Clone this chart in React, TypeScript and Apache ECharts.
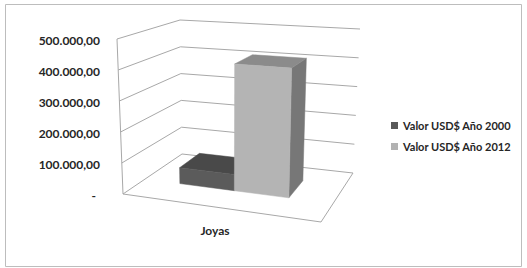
import React, { useEffect, useRef } from "react";
import * as echarts from "echarts";

const categories = ["Joyas"];
const seriesNames = ["Valor USD$ Año 2000", "Valor USD$ Año 2012"];
const values2000 = [53000];
const values2012 = [414000];
const yTicks = [0, 100000, 200000, 300000, 400000, 500000];
const Y_MIN = 0;
const Y_MAX = 500000;
const Y_INTERVAL = 100000;

// 3D box corners, in px offsets from the grid's bottom-left, for a 204 x 155 grid
const REF_W = 204;
const REF_H = 155;
const BOX = {
  flb: [6, 0],
  flt: [0, -155],
  frb: [204, 28],
  frt: [209, -141],
  blb: [65, -40],
  blt: [63, -174],
  brb: [236, -21],
  brt: [243, -165],
};

const bil = (a: number[], b: number[], c: number[], d: number[], u: number, v: number) => [
  (1 - u) * (1 - v) * a[0] + u * (1 - v) * b[0] + (1 - u) * v * c[0] + u * v * d[0],
  (1 - u) * (1 - v) * a[1] + u * (1 - v) * b[1] + (1 - u) * v * c[1] + u * v * d[1],
];

function makeProjector(cs: any) {
  const ox = cs.x;
  const oy = cs.y + cs.height;
  const sx = cs.width / REF_W;
  const sy = cs.height / REF_H;
  return (u: number, d: number, f: number) => {
    const b = bil(BOX.flb, BOX.frb, BOX.blb, BOX.brb, u, d);
    const t = bil(BOX.flt, BOX.frt, BOX.blt, BOX.brt, u, d);
    return [ox + (b[0] + (t[0] - b[0]) * f) * sx, oy + (b[1] + (t[1] - b[1]) * f) * sy];
  };
}

const fmt = (v: number) => {
  if (v === 0) return "{z|-}";
  const s = Math.round(v).toString().replace(/\B(?=(\d{3})+(?!\d))/g, ".");
  return s + ",00";
};

const FONT = "Lato";
const TEXT = "#262626";
const GRID_LINE = "#a8a8a8";

const FACE_COLORS = [
  { front: "#5b5b5b", top: "#494949", side: "#3e3e3e", legend: "#595959" },
  { front: "#b4b4b4", top: "#8b8b8b", side: "#777777", legend: "#b2b2b2" },
];
const DEPTH = [0.375, 0.74];
const BAR_W = 0.29;
const BAR_START = -0.315;

function barRender(idx: number) {
  return (params: any, api: any) => {
    const cs = params.coordSys;
    const P = makeProjector(cs);
    const base = api.coord([api.value(0), 0]);
    const top = api.coord([api.value(0), api.value(1)]);
    const band = api.size([1, 0])[0] / cs.width;
    const uc = (base[0] - cs.x) / cs.width;
    const f = (base[1] - top[1]) / cs.height;
    const u0 = uc + (BAR_START + idx * BAR_W) * band;
    const u1 = u0 + BAR_W * band;
    const [d0, d1] = DEPTH;
    const c = FACE_COLORS[idx];
    const poly = (pts: number[][], fill: string) => ({
      type: "polygon",
      shape: { points: pts },
      style: { fill, stroke: fill, lineWidth: 0.5 },
    });
    return {
      type: "group",
      children: [
        poly([P(u1, d0, 0), P(u1, d1, 0), P(u1, d1, f), P(u1, d0, f)], c.side),
        poly([P(u0, d0, f), P(u1, d0, f), P(u1, d1, f), P(u0, d1, f)], c.top),
        poly([P(u0, d0, 0), P(u1, d0, 0), P(u1, d0, f), P(u0, d0, f)], c.front),
      ],
    };
  };
}

function wallRender(params: any, api: any) {
  const cs = params.coordSys;
  const P = makeProjector(cs);
  const o = api.coord([0, 0]);
  const children: any[] = [];
  const line = (a: number[], b: number[]) => ({
    type: "line",
    shape: { x1: a[0], y1: a[1], x2: b[0], y2: b[1] },
    style: { stroke: GRID_LINE, lineWidth: 1 },
  });
  yTicks.forEach((t) => {
    const f = (o[1] - api.coord([0, t])[1]) / cs.height;
    children.push(line(P(0, 0, f), P(0, 1, f)));
    children.push(line(P(0, 1, f), P(1, 1, f)));
  });
  const fMax = (o[1] - api.coord([0, Y_MAX])[1]) / cs.height;
  children.push(line(P(0, 0, 0), P(0, 0, fMax)));
  children.push(line(P(0, 0, 0), P(1, 0, 0)));
  children.push(line(P(1, 0, 0), P(1, 1, 0)));
  return { type: "group", children };
}

export default function App() {
  const ref = useRef<HTMLDivElement>(null);
  useEffect(() => {
    document.body.style.margin = "0";
    const chart = echarts.init(ref.current!, null, { renderer: "svg" });
    chart.setOption({
      animation: false,
      backgroundColor: "#ffffff",
      textStyle: { fontFamily: FONT },
      graphic: [
        {
          type: "rect",
          shape: { x: 5.5, y: 4.5, width: 516, height: 262 },
          style: { fill: "none", stroke: "#bdbdbd", lineWidth: 1 },
          silent: true,
        },
      ],
      grid: { left: 117, top: 39, width: 204, height: 155 },
      legend: {
        orient: "vertical",
        left: 386,
        top: 115,
        itemWidth: 7,
        itemHeight: 7,
        itemGap: 10,
        icon: "rect",
        data: seriesNames,
        textStyle: { fontFamily: FONT, fontSize: 11, fontWeight: "bold", color: TEXT },
      },
      xAxis: {
        type: "category",
        data: categories,
        axisLine: { show: false },
        axisTick: { show: false },
        axisLabel: {
          margin: 30,
          padding: [0, 8, 0, 0],
          fontFamily: FONT,
          fontSize: 12,
          fontWeight: "bold",
          color: TEXT,
        },
      },
      yAxis: {
        type: "value",
        min: Y_MIN,
        max: Y_MAX,
        interval: Y_INTERVAL,
        axisLine: { show: false },
        axisTick: { show: false },
        splitLine: { show: false },
        axisLabel: {
          margin: 17,
          padding: [3, 0, 0, 0],
          formatter: fmt,
          fontFamily: FONT,
          fontSize: 12,
          fontWeight: "bold",
          color: TEXT,
          rich: { z: { padding: [0, 4, 0, 0], fontFamily: FONT, fontSize: 12, fontWeight: "bold", color: TEXT } },
        },
      },
      series: [
        {
          type: "custom",
          name: "walls",
          silent: true,
          renderItem: wallRender,
          data: [[0, 0]],
          z: 1,
        },
        {
          type: "custom",
          name: seriesNames[0],
          renderItem: barRender(0),
          itemStyle: { color: FACE_COLORS[0].legend },
          data: values2000.map((v, i) => [i, v]),
          z: 2,
        },
        {
          type: "custom",
          name: seriesNames[1],
          renderItem: barRender(1),
          itemStyle: { color: FACE_COLORS[1].legend },
          data: values2012.map((v, i) => [i, v]),
          z: 3,
        },
      ],
    });
    return () => chart.dispose();
  }, []);
  return <div ref={ref} style={{ width: 527, height: 268 }} />;
}
